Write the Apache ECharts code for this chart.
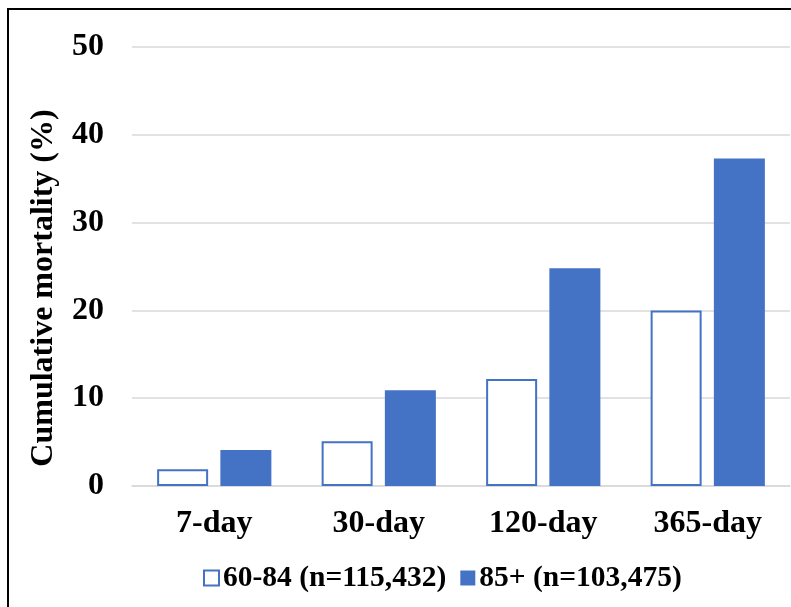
<!DOCTYPE html>
<html>
<head>
<meta charset="utf-8">
<script src="https://cdn.jsdelivr.net/npm/echarts@6/dist/echarts.min.js"></script>
<style>
html,body{margin:0;padding:0;background:#fff;overflow:hidden;}
#frame{position:absolute;left:7px;top:8px;width:900px;height:700px;border:2px solid #000;box-sizing:border-box;}
#chart{position:absolute;left:0;top:0;width:791px;height:607px;}
</style>
</head>
<body>
<div id="frame"></div>
<div id="chart"></div>
<script>
const categories = ['7-day', '30-day', '120-day', '365-day'];
const seriesNames = ['60-84 (n=115,432)', '85+ (n=103,475)'];
const valuesYounger = [1.9, 5.1, 12.2, 20.0];
const valuesOlder = [4.1, 10.9, 24.8, 37.3];
const yTicks = { min: 0, max: 50, interval: 10 };
const yTitle = 'Cumulative mortality (%)';

const FONT = '"Liberation Serif", "Times New Roman", serif';
const BLUE = '#4472c4';

const chart = echarts.init(document.getElementById('chart'), null, { renderer: 'canvas' });
chart.setOption({
  backgroundColor: 'transparent',
  animation: false,
  grid: { left: 132, right: 1, top: 47, bottom: 121, containLabel: false },
  legend: {
    data: seriesNames,
    top: 563,
    left: 203,
    padding: 0,
    icon: 'rect',
    itemWidth: 15,
    itemHeight: 15,
    itemGap: 14,
    textStyle: { fontFamily: FONT, fontWeight: 'bold', fontSize: 29.5, color: '#000', padding: [0, 0, 0, -1] }
  },
  graphic: [{
    type: 'text',
    x: 44,
    y: 288,
    rotation: Math.PI / 2,
    style: {
      text: yTitle,
      fontFamily: FONT,
      fontWeight: 'bold',
      fontSize: 32,
      fill: '#000',
      align: 'center',
      verticalAlign: 'middle'
    }
  }],
  xAxis: {
    type: 'category',
    data: categories,
    axisLine: { show: true, lineStyle: { color: '#d9d9d9', width: 1.5 } },
    axisTick: { show: false },
    axisLabel: { fontFamily: FONT, fontWeight: 'bold', fontSize: 32, color: '#000', margin: 22 }
  },
  yAxis: {
    type: 'value',
    min: yTicks.min,
    max: yTicks.max,
    interval: yTicks.interval,
    axisLine: { show: false },
    axisTick: { show: false },
    splitLine: { lineStyle: { color: '#d9d9d9', width: 1.5 } },
    axisLabel: { fontFamily: FONT, fontWeight: 'bold', fontSize: 32, color: '#000', margin: 28 }
  },
  series: [
    {
      name: seriesNames[0],
      type: 'bar',
      data: valuesYounger,
      barWidth: 51,
      barGap: '24%',
      itemStyle: { color: '#ffffff', borderColor: BLUE, borderWidth: 2 }
    },
    {
      name: seriesNames[1],
      type: 'bar',
      data: valuesOlder,
      barWidth: 51,
      barGap: '24%',
      itemStyle: { color: BLUE, borderColor: BLUE, borderWidth: 0 }
    }
  ]
});
</script>
</body>
</html>
